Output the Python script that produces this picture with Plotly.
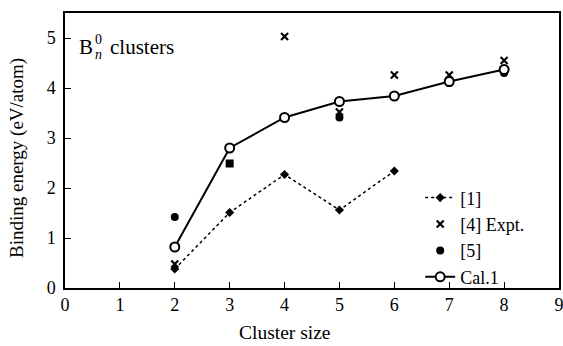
import plotly.graph_objects as go

# Data
x_ref1 = [2, 3, 4, 5, 6]
y_ref1 = [0.38, 1.51, 2.27, 1.56, 2.34]

x_expt = [2, 4, 5, 6, 7, 8]
y_expt = [0.48, 5.03, 3.52, 4.26, 4.26, 4.55]

x_ref5 = [2, 3, 5, 7, 8]
y_ref5 = [1.42, 2.49, 3.41, 4.10, 4.30]
sym_ref5 = ["circle", "square", "circle", "circle", "circle"]

x_cal = [2, 3, 4, 5, 6, 7, 8]
y_cal = [0.82, 2.80, 3.41, 3.73, 3.84, 4.13, 4.37]

x_ticks = list(range(0, 10))
y_ticks = [0, 1, 2, 3, 4, 5]

FONT = "Liberation Serif"

fig = go.Figure()
fig.add_trace(go.Scatter(
    x=x_ref1, y=y_ref1, name="[1]", mode="lines+markers",
    line=dict(color="black", width=1.5, dash="dot"),
    marker=dict(symbol="diamond", size=7, color="black"),
))
fig.add_trace(go.Scatter(
    x=x_expt, y=y_expt, name="[4] Expt.", mode="markers",
    marker=dict(symbol="x-thin", size=7, color="black",
                line=dict(color="black", width=2.2)),
))
fig.add_trace(go.Scatter(
    x=x_ref5, y=y_ref5, name="[5]", mode="markers",
    marker=dict(symbol=sym_ref5, size=8, color="black"),
))
fig.add_trace(go.Scatter(
    x=x_cal, y=y_cal, name="Cal.1", mode="lines+markers",
    line=dict(color="black", width=2),
    marker=dict(symbol="circle", size=9, color="white",
                line=dict(color="black", width=2)),
))

axis_common = dict(
    showline=True, linecolor="black", linewidth=1.5, mirror=True,
    ticks="inside", ticklen=6, tickwidth=1.2, tickcolor="black",
    showgrid=False, zeroline=False, automargin=False,
    ticklabeloverflow="allow",
    tickfont=dict(family=FONT, size=18, color="black"),
)

fig.update_xaxes(range=[0, 9], tickvals=x_ticks, **axis_common)
fig.update_yaxes(range=[0, 5.5], tickvals=y_ticks, ticklabelstandoff=4, **axis_common)

# axis titles
fig.add_annotation(xref="paper", yref="paper", x=0.445, y=-0.162, xanchor="center", yanchor="middle",
                   text="Cluster size", showarrow=False, font=dict(family=FONT, size=19.5, color="black"))
fig.add_annotation(xref="paper", yref="paper", x=-0.097, y=0.473, xanchor="center", yanchor="middle",
                   text="Binding energy (eV/atom)", textangle=-90, showarrow=False,
                   font=dict(family=FONT, size=19, color="black"))

# "B_n^0 clusters" label
fig.add_annotation(xref="paper", yref="paper", x=0.024, y=0.876, xanchor="left", yanchor="middle",
                   text="B", showarrow=False, font=dict(family=FONT, size=21, color="black"))
fig.add_annotation(xref="paper", yref="paper", x=0.056, y=0.905, xanchor="left", yanchor="middle",
                   text="0", showarrow=False, font=dict(family=FONT, size=14, color="black"))
fig.add_annotation(xref="paper", yref="paper", x=0.056, y=0.848, xanchor="left", yanchor="middle",
                   text="<i>n</i>", showarrow=False, font=dict(family=FONT, size=14, color="black"))
fig.add_annotation(xref="paper", yref="paper", x=0.087, y=0.876, xanchor="left", yanchor="middle",
                   text="clusters", showarrow=False, font=dict(family=FONT, size=21, color="black"))

fig.update_layout(
    width=563, height=346,
    margin=dict(l=65, r=4, t=13, b=58),
    paper_bgcolor="white", plot_bgcolor="white",
    font=dict(family=FONT, size=18, color="black"),
    legend=dict(x=0.719, y=0.395, xanchor="left", yanchor="top",
                bgcolor="rgba(0,0,0,0)", font=dict(family=FONT, size=18, color="black"),
                tracegroupgap=0, itemwidth=30),
    showlegend=True,
)

fig.write_html("out.html", config={"displayModeBar": False},
               post_script="document.body.style.margin='0px';")
